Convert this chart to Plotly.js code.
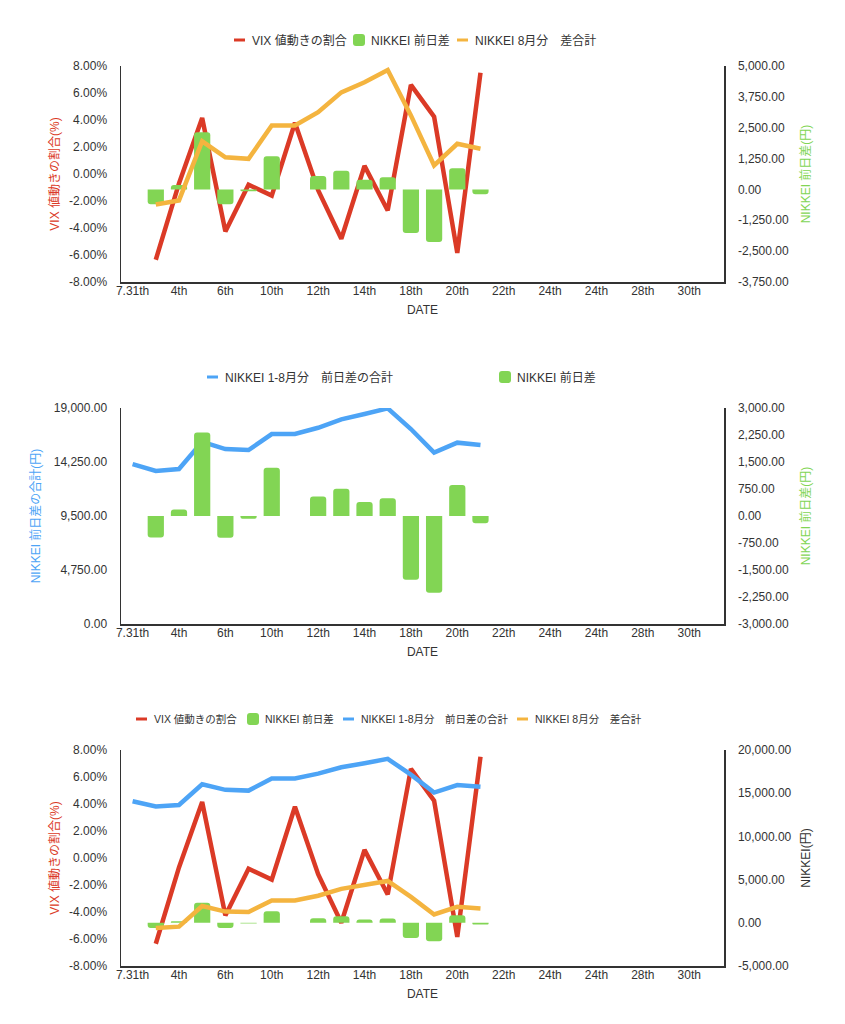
<!DOCTYPE html>
<html>
<head>
<meta charset="utf-8">
<script src="https://cdn.plot.ly/plotly-3.0.1.min.js"></script>
<style>
  html, body { margin: 0; padding: 0; background: #fff; }
</style>
</head>
<body>
<div id="chart"></div>
<script>
// x軸ラベル (2日おきに表示)
const xTickLabels = ['7.31th', '4th', '6th', '10th', '12th', '14th', '18th', '20th', '22th', '24th', '24th', '28th', '30th'];
// 取引日インデックス (0 = 7/31)
const tradeDay = [0, 1, 2, 3, 4, 5, 6, 7, 8, 9, 10, 11, 12, 13, 14, 15];
const augDay = tradeDay.slice(1);

// VIX 値動きの割合 (%)
const vixChange = [-6.35, -0.7, 4.15, -4.25, -0.8, -1.6, 3.8, -1.2, -4.8, 0.6, -2.7, 6.6, 4.25, -5.85, 7.5];
// NIKKEI 前日差 (円)
const nikkeiDiff = [-600, 180, 2320, -605, -75, 1340, 0, 540, 760, 390, 490, -1770, -2130, 860, -200];
// NIKKEI 8月分 差合計 (円)
const augTotal = [-610, -445, 1950, 1300, 1240, 2590, 2590, 3130, 3930, 4340, 4840, 3000, 970, 1850, 1650];
// NIKKEI 1-8月分 前日差の合計 (円)
const ytdTotal = [14070, 13460, 13630, 16030, 15390, 15300, 16710, 16710, 17260, 18000, 18470, 18970, 17150, 15070, 15950, 15750];

const RED = '#db3a26';
const GREEN = '#82d554';
const ORANGE = '#f4b43f';
const BLUE = '#4da4f6';
const INK = '#333333';
const FONT = 'Liberation Sans, Noto Sans CJK JP, sans-serif';

const VIX_NAME = 'VIX 値動きの割合';
const DIFF_NAME = 'NIKKEI 前日差';
const AUG_NAME = 'NIKKEI 8月分　差合計';
const YTD_NAME = 'NIKKEI 1-8月分　前日差の合計';

function px(y) { return 1 - y / 1024; }

const xDom = [121 / 845, 724 / 845];

function xAxis(anchor) {
  return {
    domain: xDom,
    anchor: anchor,
    range: [-0.5, 25.5],
    tickmode: 'array',
    tickvals: xTickLabels.map((_, i) => i * 2),
    ticktext: xTickLabels,
    showgrid: false,
    zeroline: false,
    showline: true,
    linecolor: INK,
    linewidth: 1.5,
    ticks: '',
    ticklabelstandoff: -3,
    tickfont: {size: 12, color: INK},
    title: {text: 'DATE', font: {size: 12, color: INK}, standoff: 8},
    automargin: false,
  };
}

function yAxis(domain, range, dtick, fmt, suffix, title, color, side, overlay, standoff) {
  const ax = {
    domain: domain,
    range: range,
    tick0: 0,
    dtick: dtick,
    tickformat: fmt,
    ticksuffix: suffix,
    showgrid: false,
    zeroline: false,
    showline: true,
    linecolor: INK,
    linewidth: 1.5,
    ticks: 'outside',
    ticklen: 10,
    tickcolor: 'rgba(0,0,0,0)',
    tickfont: {size: 12, color: INK},
    title: {text: title, font: {size: 12, color: color}, standoff: standoff || 10},
    side: side,
    automargin: false,
  };
  if (overlay) ax.overlaying = overlay;
  return ax;
}

const d1 = [px(282), px(66)];
const d2 = [px(624), px(408)];
const d3 = [px(966), px(750)];

const lineStyle = (c) => ({color: c, width: 4.5});
const barMarker = {color: GREEN, cornerradius: 3};

const traces = [
  // グラフ1
  {x: augDay, y: nikkeiDiff, type: 'bar', name: DIFF_NAME, xaxis: 'x', yaxis: 'y2',
   marker: barMarker, width: 0.7, legend: 'legend', legendrank: 2},
  {x: augDay, y: augTotal, type: 'scatter', mode: 'lines', name: AUG_NAME, xaxis: 'x', yaxis: 'y2',
   line: lineStyle(ORANGE), legend: 'legend', legendrank: 3},
  {x: augDay, y: vixChange, type: 'scatter', mode: 'lines', name: VIX_NAME, xaxis: 'x', yaxis: 'y',
   line: lineStyle(RED), legend: 'legend', legendrank: 1},

  // グラフ2
  {x: augDay, y: nikkeiDiff, type: 'bar', name: DIFF_NAME, xaxis: 'x2', yaxis: 'y4',
   marker: barMarker, width: 0.7, legend: 'legend2', legendrank: 2},
  {x: tradeDay, y: ytdTotal, type: 'scatter', mode: 'lines', name: YTD_NAME, xaxis: 'x2', yaxis: 'y3',
   line: lineStyle(BLUE), legend: 'legend2', legendrank: 1},

  // グラフ3
  {x: augDay, y: nikkeiDiff, type: 'bar', name: DIFF_NAME, xaxis: 'x3', yaxis: 'y6',
   marker: barMarker, width: 0.7, legend: 'legend3', legendrank: 2},
  {x: tradeDay, y: ytdTotal, type: 'scatter', mode: 'lines', name: YTD_NAME, xaxis: 'x3', yaxis: 'y6',
   line: lineStyle(BLUE), legend: 'legend3', legendrank: 3},
  {x: augDay, y: augTotal, type: 'scatter', mode: 'lines', name: AUG_NAME, xaxis: 'x3', yaxis: 'y6',
   line: lineStyle(ORANGE), legend: 'legend3', legendrank: 4},
  {x: augDay, y: vixChange, type: 'scatter', mode: 'lines', name: VIX_NAME, xaxis: 'x3', yaxis: 'y5',
   line: lineStyle(RED), legend: 'legend3', legendrank: 1},
];

const legendBase = {
  orientation: 'h',
  x: 0.5,
  xanchor: 'center',
  yanchor: 'middle',
  font: {size: 12, color: INK},
  bgcolor: 'rgba(0,0,0,0)',
  itemwidth: 30,
  traceorder: 'normal',
};

const layout = {
  width: 845,
  height: 1024,
  margin: {l: 0, r: 0, t: 0, b: 0},
  paper_bgcolor: '#fff',
  plot_bgcolor: 'rgba(0,0,0,0)',
  font: {family: FONT, size: 12, color: INK},
  barmode: 'overlay',
  showlegend: true,
  legend: Object.assign({}, legendBase, {y: px(40)}),
  legend2: Object.assign({}, legendBase, {y: px(377)}),
  legend3: Object.assign({}, legendBase, {y: px(719), font: {size: 10.5, color: INK}}),

  xaxis: xAxis('y'),
  xaxis2: xAxis('y3'),
  xaxis3: xAxis('y5'),

  yaxis: yAxis(d1, [-8, 8], 2, '.2f', '%', 'VIX 値動きの割合(%)', RED, 'left', null, 4),
  yaxis2: yAxis(d1, [-3750, 5000], 1250, ',.2f', '', 'NIKKEI 前日差(円)', GREEN, 'right', 'y'),
  yaxis3: yAxis(d2, [0, 19000], 4750, ',.2f', '', 'NIKKEI 前日差の合計(円)', BLUE, 'left'),
  yaxis4: yAxis(d2, [-3000, 3000], 750, ',.2f', '', 'NIKKEI 前日差(円)', GREEN, 'right', 'y3'),
  yaxis5: yAxis(d3, [-8, 8], 2, '.2f', '%', 'VIX 値動きの割合(%)', RED, 'left', null, 4),
  yaxis6: yAxis(d3, [-5000, 20000], 5000, ',.2f', '', 'NIKKEI(円)', INK, 'right', 'y5'),
};

// 凡例の各項目の左端 (px) — 記号を短くして並べ直す
const legendStarts = {
  legend: [234, 353, 457],
  legend2: [207, 499],
  legend3: [136, 247, 343, 517],
};

function tidy(gd) {
  gd.querySelectorAll('text').forEach(t => {
    if (t.textContent.indexOf('\u2212') >= 0) t.textContent = t.textContent.replace(/\u2212/g, '-');
  });
  Object.keys(legendStarts).forEach(id => {
    gd.querySelectorAll('g.' + id).forEach(leg => {
      const items = Array.from(leg.querySelectorAll('g.traces')).filter(g => g.querySelector('text'));
      if (!items.length) return;
      leg.querySelectorAll('[clip-path]').forEach(n => n.removeAttribute('clip-path'));
      const m = leg.transform.baseVal.consolidate();
      const ox = m ? m.matrix.e : 0;
      const starts = legendStarts[id];
      items.forEach((g, i) => {
        const t = g.querySelector('text');
        g.querySelectorAll('path').forEach(p => {
          const d = p.getAttribute('d') || '';
          if (/^M5,0h/.test(d) || p.closest('.legendlines')) {
            p.setAttribute('d', 'M0,0h11');
            p.style.strokeWidth = '3px';
          } else if (p.closest('.legendpoints')) {
            p.setAttribute('transform', 'translate(6,0)');
          }
        });
        t.setAttribute('x', 18);
        const ty = ((g.getAttribute('transform') || '').match(/,\s*([-\d.]+)/) || [0, 0])[1];
        const sx = starts[Math.min(i, starts.length - 1)] - ox;
        g.setAttribute('transform', 'translate(' + sx + ',' + ty + ')');
      });
    });
  });
}

Plotly.newPlot('chart', traces, layout, {displayModeBar: false, staticPlot: true}).then(gd => {
  tidy(gd);
  setTimeout(() => tidy(gd), 30);
  setTimeout(() => tidy(gd), 200);
});
</script>
</body>
</html>
